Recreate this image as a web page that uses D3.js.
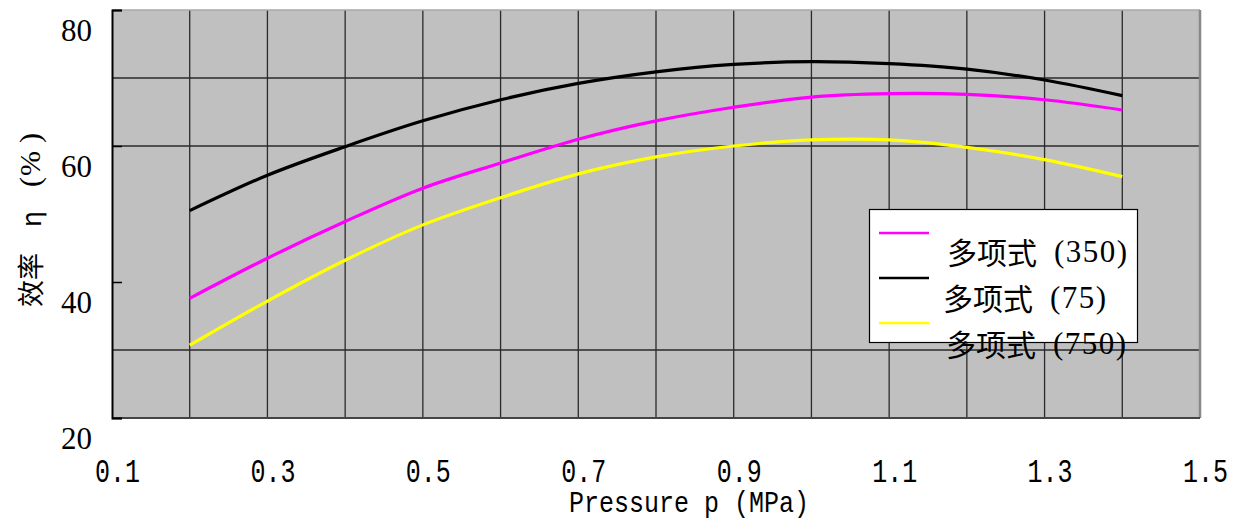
<!DOCTYPE html>
<html>
<head>
<meta charset="utf-8">
<script src="https://cdn.jsdelivr.net/npm/d3@7"></script>
<style>
  html, body { margin: 0; padding: 0; background: #fff; }
  svg { display: block; }
</style>
</head>
<body>
<svg id="chart" width="1240" height="522"></svg>
<script>
// ---- data ----
const pressure = [0.2, 0.3, 0.4, 0.5, 0.6, 0.7, 0.8, 0.9, 1.0, 1.1, 1.2, 1.3, 1.4];
const eff350 = [37.6, 43.5, 48.9, 53.8, 57.5, 61.0, 63.7, 65.7, 67.2, 67.7, 67.6, 66.8, 65.3];
const eff75  = [50.5, 55.7, 59.9, 63.7, 66.8, 69.2, 70.9, 72.0, 72.4, 72.1, 71.3, 69.7, 67.4];
const eff750 = [30.7, 37.2, 43.2, 48.4, 52.4, 55.9, 58.4, 60.0, 60.9, 60.9, 59.8, 58.0, 55.5];
const seriesCJK = ["多项式", "多项式", "多项式"];
const seriesTags = ["(350)", "(75)", "(750)"];
const seriesColors = ["#FF00FF", "#000000", "#FFFF00"];
const xTickLabels = [0.1, 0.3, 0.5, 0.7, 0.9, 1.1, 1.3, 1.5];
const xGridValues = [0.2, 0.3, 0.4, 0.5, 0.6, 0.7, 0.8, 0.9, 1.0, 1.1, 1.2, 1.3, 1.4];
const yTickLabels = [20, 40, 60, 80];
const yGridValues = [70, 60, 30];
const xTitle = "Pressure p (MPa)";
const yTitleParts = ["效率", "η", "(", "%", ")"];

// ---- layout ----
const svg = d3.select("#chart");
const L = 112, R = 1200, T = 10, B = 418;
const x = d3.scaleLinear().domain([0.1, 1.5]).range([L, R]);
const y = d3.scaleLinear().domain([20, 80]).range([B, T]);

// plot background
svg.append("rect").attr("x", L).attr("y", T).attr("width", R - L).attr("height", B - T)
  .attr("fill", "#C0C0C0");

// vertical gridlines
svg.append("g").selectAll("line").data(xGridValues).join("line")
  .attr("x1", d => x(d)).attr("x2", d => x(d)).attr("y1", T).attr("y2", B)
  .attr("stroke", "#2a2a2a").attr("stroke-width", 1.3);

// horizontal gridlines
svg.append("g").selectAll("line").data(yGridValues).join("line")
  .attr("x1", L).attr("x2", R).attr("y1", d => y(d)).attr("y2", d => y(d))
  .attr("stroke", "#2a2a2a").attr("stroke-width", 1.3);

// borders
svg.append("line").attr("x1", L).attr("x2", R).attr("y1", T).attr("y2", T).attr("stroke", "#a8a8a8").attr("stroke-width", 1.5);
svg.append("line").attr("x1", R).attr("x2", R).attr("y1", T).attr("y2", B).attr("stroke", "#888").attr("stroke-width", 2.5);
svg.append("line").attr("x1", L).attr("x2", R).attr("y1", B).attr("y2", B).attr("stroke", "#444").attr("stroke-width", 2);

// left axis with inward ticks
const yAxis = d3.axisRight(y).tickValues(yTickLabels).tickSize(10).tickFormat("");
const gy = svg.append("g").attr("transform", `translate(${L},0)`).call(yAxis);
gy.select(".domain").attr("stroke", "#000").attr("stroke-width", 2);
gy.selectAll(".tick line").attr("stroke", "#000").attr("stroke-width", 1.5);

// y tick labels (drawn slightly below their positions, as in the reference)
svg.append("g").selectAll("text").data(yTickLabels).join("text")
  .attr("x", 92).attr("y", d => y(d) + 20)
  .attr("text-anchor", "end").attr("dominant-baseline", "central")
  .attr("font-family", "'Liberation Serif', serif").attr("font-size", 31)
  .attr("fill", "#000").text(d => d);

// x tick labels
const xAxis = d3.axisBottom(x).tickValues(xTickLabels).tickSize(0).tickFormat(d3.format(".1f"));
const gx = svg.append("g").attr("transform", `translate(0,${B})`).call(xAxis);
gx.select(".domain").remove();
gx.selectAll(".tick text")
  .attr("font-family", "'Liberation Mono', monospace").attr("font-size", 25)
  .attr("fill", "#000")
  .attr("x", 5)
  .attr("y", 0).attr("dy", 0)
  .attr("dominant-baseline", "central")
  .attr("transform", "translate(0,56) scale(1,1.3)");

// x title
svg.append("text")
  .attr("transform", "translate(689,505) scale(1,1.15)")
  .attr("text-anchor", "middle").attr("dominant-baseline", "central")
  .attr("font-family", "'Liberation Mono', monospace").attr("font-size", 25)
  .attr("fill", "#000").text(xTitle);

// y title (rotated), parts placed along the axis
const yTitle = svg.append("text")
  .attr("transform", "translate(29,0) rotate(-90)")
  .attr("dominant-baseline", "central")
  .attr("fill", "#000");
const yTitlePos = [-280, -219, -182, -163.5, -138];
const yTitleFonts = ["'Noto Sans CJK SC', sans-serif", "'Noto Sans CJK SC', sans-serif",
  "'Liberation Serif', serif", "'Liberation Serif', serif", "'Liberation Serif', serif"];
const yTitleSizes = [27, 27, 30, 30, 30];
yTitleParts.forEach((t, i) => {
  yTitle.append("tspan").attr("x", yTitlePos[i]).attr("y", 0)
    .attr("text-anchor", "middle")
    .attr("font-family", yTitleFonts[i]).attr("font-size", yTitleSizes[i])
    .text(t);
});

// series lines
const seriesData = [eff350, eff75, eff750];
const line = d3.line()
  .x((d, i) => x(pressure[i]))
  .y(d => y(d))
  .curve(d3.curveCatmullRom.alpha(0.5));
svg.append("g").selectAll("path").data(seriesData).join("path")
  .attr("d", d => line(d))
  .attr("fill", "none")
  .attr("stroke", (d, i) => seriesColors[i])
  .attr("stroke-width", 3.2);

// legend
const lg = svg.append("g");
lg.append("rect").attr("x", 869.5).attr("y", 209.5).attr("width", 268).attr("height", 133)
  .attr("fill", "#fff").attr("stroke", "#000").attr("stroke-width", 1.2);
const legendLineY = [233, 278, 323];
const legendTextPos = [[947, 251], [943, 297], [946, 343]];
seriesCJK.forEach((name, i) => {
  lg.append("line").attr("x1", 879).attr("x2", 929)
    .attr("y1", legendLineY[i]).attr("y2", legendLineY[i])
    .attr("stroke", seriesColors[i]).attr("stroke-width", 2.5);
  const t = lg.append("text").attr("x", legendTextPos[i][0]).attr("y", legendTextPos[i][1])
    .attr("dominant-baseline", "central").attr("fill", "#000");
  t.append("tspan").attr("font-family", "'Noto Sans CJK SC', sans-serif").attr("font-size", 30)
    .text(name);
  t.append("tspan").attr("dx", 17).attr("font-family", "'Liberation Serif', serif").attr("font-size", 31)
    .attr("letter-spacing", 1.5).text(seriesTags[i]);
});
</script>
</body>
</html>
